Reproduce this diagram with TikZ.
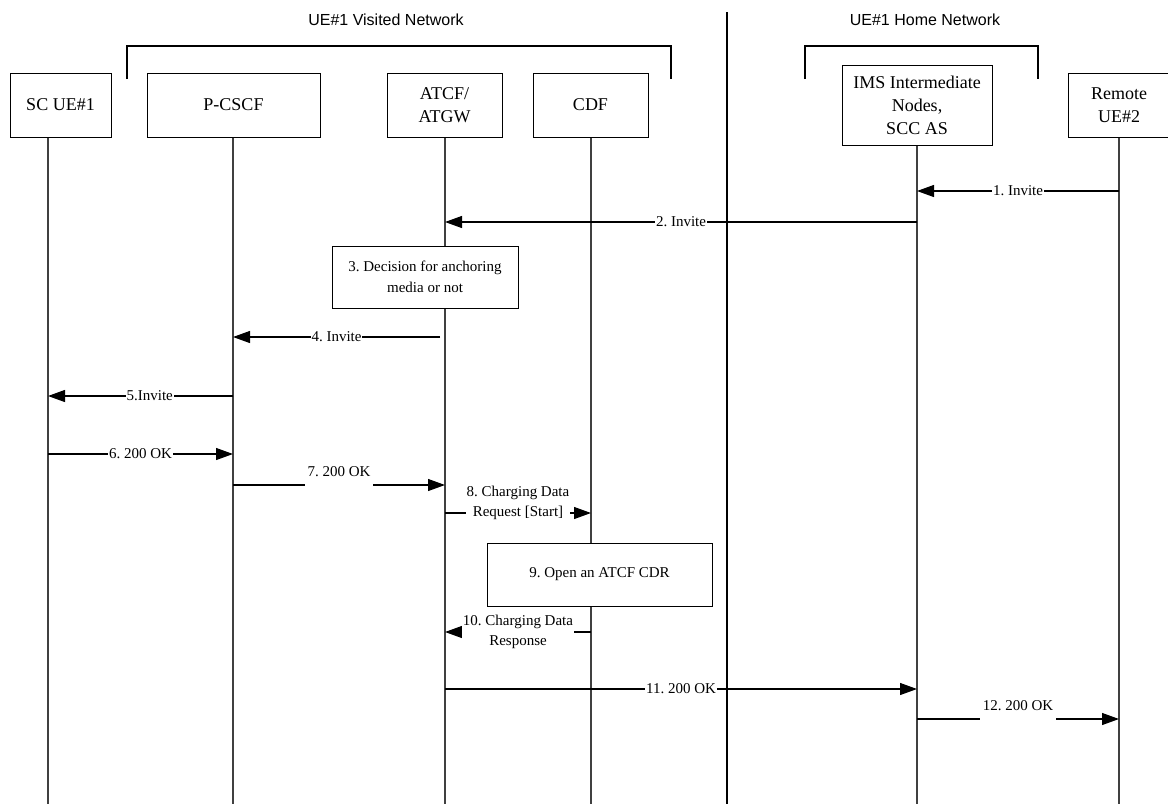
\documentclass[tikz,border=0pt]{standalone}
\usepackage{fontspec}
\setmainfont{Liberation Serif}
\newfontfamily\headfont{Liberation Sans}
\usetikzlibrary{arrows.meta}
\frenchspacing

\tikzset{
  entity/.style={draw, line width=1pt, fill=white, align=center, inner sep=0pt, font=\fontsize{18}{23}\selectfont},
  action/.style={draw, line width=1pt, fill=white, align=center, inner sep=0pt, font=\fontsize{15}{21}\selectfont},
  lifeline/.style={black!75, line width=1.3pt},
  msg/.style={line width=1.2pt, -{Triangle[length=17pt,width=12pt]}},
  lbl/.style={fill=white, inner xsep=1pt, inner ysep=1pt, align=center, font=\fontsize{15}{20}\selectfont},
  raised/.style={lbl, inner xsep=3pt, minimum height=30pt, yshift=13pt},
  bracket/.style={line width=1.2pt},
}

\begin{document}
\begin{tikzpicture}[x=1pt,y=-1pt]
  \path[use as bounding box] (0,0) rectangle (1168,804);

  % network titles and groupings
  \node[font=\headfont\fontsize{16}{18}\selectfont] (visited) at (386,20) {UE\#1 Visited Network};
  \node[font=\headfont\fontsize{16}{18}\selectfont] (home) at (925,20) {UE\#1 Home Network};
  \draw[bracket] (127,79) -- (127,46) -- (671,46) -- (671,79);
  \draw[bracket] (805,79) -- (805,46) -- (1038,46) -- (1038,79);
  \draw[line width=2.5pt] (727,12) -- (727,804);

  % entities
  \node[entity, minimum width=101pt, minimum height=64pt] (ue) at (60.5,105) {SC UE\#1};
  \node[entity, minimum width=173pt, minimum height=64pt] (pcscf) at (233.5,105) {P-CSCF};
  \node[entity, minimum width=115pt, minimum height=64pt] (atcf) at (444.5,105) {ATCF/\\ATGW};
  \node[entity, minimum width=115pt, minimum height=64pt] (cdf) at (590.5,105) {CDF};
  \node[entity, minimum width=150pt, minimum height=80pt] (ims) at (917,105) {IMS Intermediate\\Nodes,\\SCC AS};
  \node[entity, minimum width=102pt, minimum height=64pt] (remote) at (1119,105) {Remote\\UE\#2};

  % lifelines
  \foreach \n/\x/\ent in {ue-b/48/ue, pc-b/233/pcscf, at-b/445/atcf, cd-b/591/cdf, im-b/917/ims, rm-b/1119/remote}{
    \coordinate (\n) at (\x,804);
    \draw[lifeline] (\n |- \ent.south) -- (\n);
  }

  % messages
  \draw[msg] (rm-b |- 0,191) -- node[lbl] {1. Invite} (im-b |- 0,191);
  \draw[msg] (im-b |- 0,222) -- node[lbl] {2. Invite} (at-b |- 0,222);

  \node[action, minimum width=186pt, minimum height=62pt] (decide) at (425,277) {3. Decision for anchoring\\media or not};

  \draw[msg] ([xshift=-5pt]at-b |- 0,337) -- node[lbl] {4. Invite} (pc-b |- 0,337);
  \draw[msg] (pc-b |- 0,396) -- node[lbl, pos=0.45] {5.Invite} (ue-b |- 0,396);
  \draw[msg] (ue-b |- 0,454) -- node[lbl] {6. 200 OK} (pc-b |- 0,454);
  \draw[msg] (pc-b |- 0,485) -- node[raised] {7. 200 OK} (at-b |- 0,485);
  \draw[msg] (at-b |- 0,513) -- node[lbl, yshift=10pt] {8. Charging Data\\Request [Start]} (cd-b |- 0,513);

  \node[action, minimum width=225pt, minimum height=63pt] (opencdr) at (599.5,574.5) {9. Open an ATCF CDR};

  \draw[msg] (cd-b |- 0,632) -- node[lbl] {10. Charging Data\\Response} (at-b |- 0,632);
  \draw[msg] (at-b |- 0,689) -- node[lbl] {11. 200 OK} (im-b |- 0,689);
  \draw[msg] (im-b |- 0,719) -- node[raised] {12. 200 OK} (rm-b |- 0,719);
\end{tikzpicture}
\end{document}
